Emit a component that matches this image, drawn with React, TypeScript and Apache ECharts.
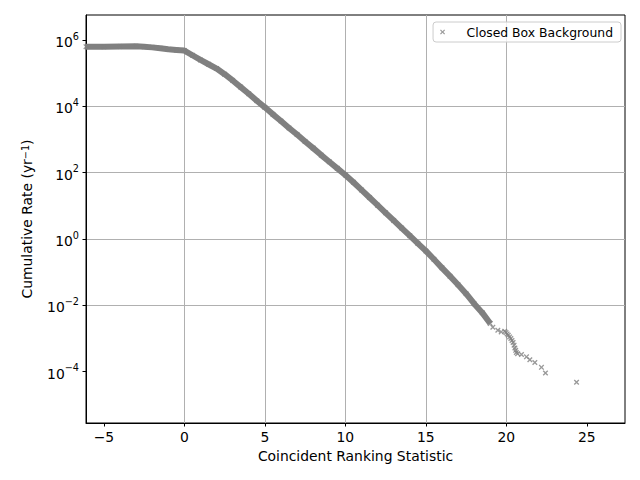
import React, { useEffect, useRef } from 'react';
import * as echarts from 'echarts';

// Dense part of the background: statistic and cumulative rate (per yr)
const bandStat = [-6.11, -5, -4, -3, -2.5, -2, -1.5, -1, -0.5, 0, 0.5, 1, 1.5, 2, 2.5, 3, 3.5, 4, 4.5, 5,
  5.5, 6, 6.5, 7, 7.5, 8, 8.5, 9, 9.5, 10, 10.5, 11, 11.5, 12, 12.5, 13, 13.5, 14, 14.5, 15,
  15.5, 16, 16.5, 17, 17.5, 18, 18.5, 19];
const bandRate = [6.3e5, 6.3e5, 6.35e5, 6.45e5, 6.3e5, 6.0e5, 5.62e5, 5.25e5, 5.01e5, 4.79e5,
  3.47e5, 2.51e5, 1.86e5, 1.38e5, 9.33e4, 6.03e4, 3.8e4, 2.4e4, 1.48e4, 9.33e3,
  5.75e3, 3.63e3, 2.24e3, 1.41e3, 871, 550, 339, 214, 135, 85.1,
  51.3, 30.2, 17.8, 10.5, 6.17, 3.63, 2.14, 1.26, 0.741, 0.437,
  0.245, 0.135, 0.0759, 0.0417, 0.0224, 0.0112, 0.00603, 0.00282];

// Sparse tail of loud events
const tailStat = [19.16, 19.47, 19.68, 19.9, 19.98, 20.05, 20.12, 20.2, 20.28, 20.35, 20.42, 20.48,
  20.53, 20.58, 20.62, 20.7, 20.94, 21.25, 21.46, 21.77, 22.18, 22.43, 24.36];
const tailRate = [2.19e-3, 1.78e-3, 1.58e-3, 1.66e-3, 1.51e-3, 1.38e-3, 1.26e-3, 1.12e-3, 1.0e-3, 8.7e-4, 7.6e-4, 6.3e-4,
  5.2e-4, 4.4e-4, 3.8e-4, 3.5e-4, 3.3e-4, 2.8e-4, 2.3e-4, 1.9e-4, 1.35e-4, 9.1e-5, 4.8e-5];

const xTicks = [-5, 0, 5, 10, 15, 20, 25];
const yTickExps = [-4, -2, 0, 2, 4, 6];

const seriesName = 'Closed Box Background';
const xTitle = 'Coincident Ranking Statistic';

const FONT = 'DejaVu Sans';
const GREY = '#808080';
const X_PATH = 'path://M0,1.7L1.7,0L5,3.3L8.3,0L10,1.7L6.7,5L10,8.3L8.3,10L5,6.7L1.7,10L0,8.3L3.3,5Z';

const minus = (n: number) => (n < 0 ? '\u2212' + Math.abs(n) : String(n));

export default function App() {
  const ref = useRef<HTMLDivElement>(null);
  useEffect(() => {
    const chart = echarts.init(ref.current!, null, { renderer: 'svg' });
    const band = bandStat.map((x, i) => [x, Math.log10(bandRate[i])]);
    const tail = tailStat.map((x, i) => [x, Math.log10(tailRate[i])]);
    chart.setOption({
      animation: false,
      backgroundColor: '#ffffff',
      textStyle: { fontFamily: FONT },
      grid: { left: 86, right: 15, top: 15, bottom: 57, show: true, borderColor: '#000', borderWidth: 1, backgroundColor: 'transparent' },
      legend: {
        data: [{ name: seriesName, icon: X_PATH }],
        right: 19,
        top: 22,
        itemWidth: 18,
        itemHeight: 5,
        padding: [4, 8, 4, 7],
        backgroundColor: 'rgba(255,255,255,0.8)',
        borderColor: '#cccccc',
        borderWidth: 1,
        borderRadius: 3,
        textStyle: { fontFamily: FONT, fontSize: 12.4, color: '#000', padding: [0, 0, 0, 10] },
      },
      xAxis: {
        type: 'value',
        min: -6.11,
        max: 27.37,
        splitNumber: 5,
        name: xTitle,
        nameLocation: 'middle',
        nameGap: 26,
        nameTextStyle: { fontFamily: FONT, fontSize: 13.9, color: '#000' },
        axisLine: { show: true, onZero: false, lineStyle: { color: '#000', width: 1 } },
        axisTick: { show: true, length: 3.5, lineStyle: { color: '#000' }, customValues: xTicks },
        axisLabel: { fontFamily: FONT, fontSize: 13.9, color: '#000', margin: 7, customValues: xTicks, formatter: (v: number) => minus(v) },
        splitLine: { show: true, showMinLine: false, showMaxLine: false, lineStyle: { color: '#b0b0b0', width: 1 } },
      },
      yAxis: {
        type: 'value',
        min: -5.547,
        max: 6.754,
        splitNumber: 5,
        name: 'Cumulative Rate (yr{sup|\u22121})',
        nameLocation: 'middle',
        nameGap: 52,
        nameTextStyle: {
          fontFamily: FONT, fontSize: 13.9, color: '#000',
          rich: { sup: { fontFamily: FONT, fontSize: 9.7, color: '#000', verticalAlign: 'top', lineHeight: 10 } },
        },
        axisLine: { show: true, onZero: false, lineStyle: { color: '#000', width: 1 } },
        axisTick: { show: true, length: 3.5, lineStyle: { color: '#000' }, customValues: yTickExps },
        axisLabel: {
          margin: 7,
          customValues: yTickExps,
          formatter: (v: number) => {
            const n = Math.round(v);
            if (Math.abs(v - n) > 1e-6) return '';
            return `{b|10}{s|${minus(n)}}`;
          },
          rich: {
            b: { fontFamily: FONT, fontSize: 13.9, color: '#000', verticalAlign: 'bottom', lineHeight: 18 },
            s: { fontFamily: FONT, fontSize: 9.7, color: '#000', verticalAlign: 'top', lineHeight: 10 },
          },
        },
        splitLine: { show: true, showMinLine: false, showMaxLine: false, lineStyle: { color: '#b0b0b0', width: 1 } },
      },
      series: [
        {
          name: 'band',
          type: 'line',
          data: band,
          showSymbol: false,
          symbol: 'none',
          silent: true,
          lineStyle: { color: GREY, width: 6, join: 'round', cap: 'butt' },
          z: 2,
        },
        {
          name: seriesName,
          type: 'scatter',
          data: [...band, ...tail],
          symbol: X_PATH,
          symbolSize: 5.5,
          itemStyle: { color: GREY },
          z: 3,
        },
      ],
    });
    return () => chart.dispose();
  }, []);
  return <div ref={ref} style={{ position: 'absolute', left: 0, top: 0, width: 640, height: 480 }} />;
}
